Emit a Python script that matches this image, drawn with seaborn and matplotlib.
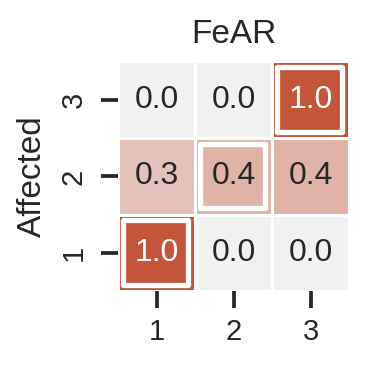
import numpy as np
import pandas as pd
import matplotlib
matplotlib.use("Agg")
import matplotlib.pyplot as plt
import seaborn as sns
from matplotlib.patches import Rectangle

# Data (rows: affected agent, top to bottom; columns: actor)
actor_labels = ["1", "2", "3"]
affected_labels = ["3", "2", "1"]
row_3 = [0.0, 0.0, 1.0]
row_2 = [0.3, 0.4, 0.4]
row_1 = [1.0, 0.0, 0.0]

df = pd.DataFrame([row_3, row_2, row_1], index=affected_labels, columns=actor_labels)

sns.set_theme(style="ticks")
plt.rcParams["font.family"] = ["Liberation Sans", "DejaVu Sans"]

fig = plt.figure(figsize=(3.69, 3.66), dpi=100)
ax = fig.add_axes([0.3198, 0.204, 0.627, 0.628])

cmap = sns.diverging_palette(220, 20, as_cmap=True)
sns.heatmap(df, ax=ax, cmap=cmap, vmin=-1, vmax=1, annot=True, fmt=".1f",
            annot_kws={"fontsize": 23}, linewidths=2, linecolor="white",
            cbar=False, square=False)

# highlight diagonal (self) cells
for j, lab in enumerate(actor_labels):
    i = affected_labels.index(lab)
    ax.add_patch(Rectangle((j + 0.06, i + 0.075), 0.845, 0.84, fill=False,
                           edgecolor="white", lw=3.8, joinstyle="round",
                           zorder=3))

ax.set_title("FeAR", fontsize=24, pad=13.5, color="#262626")
ax.set_ylabel("Affected", fontsize=24, color="#262626", labelpad=8)
ax.set_xlabel("")
ax.tick_params(axis="both", length=12, width=2.7, color="#262626",
               labelsize=21, labelcolor="#262626")
ax.tick_params(axis="x", pad=7)
ax.tick_params(axis="y", pad=10)
for t in ax.get_yticklabels():
    t.set_rotation(90)
    t.set_va("center")

fig.savefig("out.png", dpi=100)
